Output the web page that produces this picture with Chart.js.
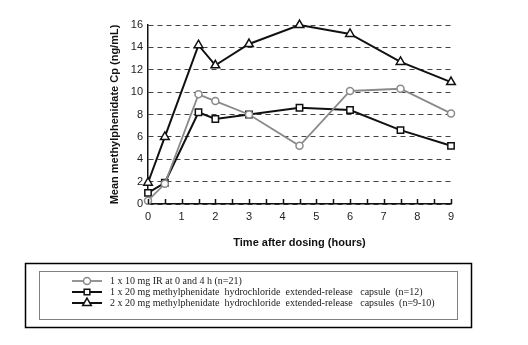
<!DOCTYPE html>
<html>
<head>
<meta charset="utf-8">
<script src="https://cdn.jsdelivr.net/npm/chart.js@4"></script>
<style>
  html, body { margin: 0; padding: 0; background: #fff; }
</style>
</head>
<body>
<canvas id="myChart" width="528" height="345"></canvas>
<script>
// Sampling times (hours) and mean plasma concentrations (ng/mL)
const hours = [0, 0.5, 1.5, 2, 3, 4.5, 6, 7.5, 9];
const irValues = [0.3, 1.8, 9.8, 9.2, 8.0, 5.2, 10.1, 10.3, 8.1];
const er20Values = [1.0, 1.9, 8.2, 7.6, 8.0, 8.6, 8.4, 6.6, 5.2];
const er40Values = [1.9, 6.0, 14.2, 12.4, 14.3, 16.0, 15.2, 12.7, 10.9];
const seriesLabels = [
    '1 x 10 mg IR at 0 and 4 h (n=21)',
    '1 x 20 mg methylphenidate  hydrochloride  extended-release   capsule  (n=12)',
    '2 x 20 mg methylphenidate  hydrochloride  extended-release   capsules  (n=9-10)'
];
const yTicks = [0, 2, 4, 6, 8, 10, 12, 14, 16];
const xTicks = [0, 1, 2, 3, 4, 5, 6, 7, 8, 9];

const toPoints = vals => vals.map((v, i) => ({ x: hours[i], y: v }));

// small inward tick marks on the time axis, every half hour
const innerTicks = {
    id: 'innerTicks',
    afterDraw(chart) {
        const ctx = chart.ctx;
        const xs = chart.scales.x;
        const y0 = chart.chartArea.bottom;
        ctx.save();
        ctx.strokeStyle = '#111';
        ctx.lineWidth = 1.5;
        for (let t = 0; t <= 9; t += 0.5) {
            const px = Math.round(xs.getPixelForValue(t)) + 0.5;
            ctx.beginPath();
            ctx.moveTo(px, y0);
            ctx.lineTo(px, y0 - 5);
            ctx.stroke();
        }
        ctx.restore();
    }
};

// boxed legend below the plot
const boxLegend = {
    id: 'boxLegend',
    afterDraw(chart) {
        const ctx = chart.ctx;
        ctx.save();
        ctx.strokeStyle = '#000';
        ctx.lineWidth = 1.5;
        ctx.strokeRect(25.5, 263.5, 446, 64);
        ctx.lineWidth = 1;
        ctx.setLineDash([1, 1]);
        ctx.strokeRect(39.5, 271.5, 418, 48);
        ctx.setLineDash([]);

        const rows = [281, 292, 303];
        chart.data.datasets.forEach((ds, i) => {
            const y = rows[i];
            ctx.strokeStyle = ds.borderColor;
            ctx.lineWidth = ds.borderWidth;
            ctx.beginPath();
            ctx.moveTo(72, y);
            ctx.lineTo(102, y);
            ctx.stroke();
            ctx.fillStyle = '#fff';
            ctx.strokeStyle = ds.borderColor;
            ctx.lineWidth = ds.pointBorderWidth;
            Chart.helpers.drawPoint(ctx, {
                pointStyle: ds.pointStyle,
                radius: ds.legendRadius,
                borderWidth: ds.pointBorderWidth
            }, 87, y);
            ctx.fillStyle = '#1a1a1a';
            ctx.font = '10px "Liberation Serif", serif';
            ctx.textBaseline = 'middle';
            ctx.fillText(ds.label, 110, y);
        });
        ctx.restore();
    }
};

const data = {
    datasets: [{
        label: seriesLabels[0],
        data: toPoints(irValues),
        borderColor: '#8a8a8a',
        backgroundColor: '#fff',
        borderWidth: 1.8,
        pointStyle: 'circle',
        pointRadius: 3.5,
        legendRadius: 3.5,
        pointBorderWidth: 1.5
    }, {
        label: seriesLabels[1],
        data: toPoints(er20Values),
        borderColor: '#111',
        backgroundColor: '#fff',
        borderWidth: 2,
        pointStyle: 'rect',
        pointRadius: 4.5,
        legendRadius: 4,
        pointBorderWidth: 1.5
    }, {
        label: seriesLabels[2],
        data: toPoints(er40Values),
        borderColor: '#111',
        backgroundColor: '#fff',
        borderWidth: 2,
        pointStyle: 'triangle',
        pointRadius: 5,
        legendRadius: 5,
        pointBorderWidth: 1.5
    }]
};

const config = {
    type: 'line',
    data: data,
    options: {
        responsive: false,
        animation: false,
        layout: { padding: { top: 25, right: 77, bottom: 91, left: 104 } },
        plugins: {
            legend: { display: false },
            tooltip: { enabled: false }
        },
        elements: { line: { tension: 0 } },
        clip: false,
        scales: {
            x: {
                type: 'linear',
                min: 0,
                max: 9,
                afterBuildTicks: s => { s.ticks = xTicks.map(v => ({ value: v })); },
                afterFit: s => { s.height = 50; },
                grid: { display: false, drawTicks: false },
                border: { display: true, color: '#111', width: 1.5 },
                ticks: {
                    color: '#222',
                    padding: 6,
                    font: { family: '"Liberation Sans", Arial, sans-serif', size: 11 }
                },
                title: {
                    display: true,
                    text: 'Time after dosing (hours)',
                    color: '#111',
                    padding: { top: 11 },
                    font: { family: '"Liberation Sans", Arial, sans-serif', size: 11, weight: 'bold' }
                }
            },
            y: {
                min: 0,
                max: 16,
                afterBuildTicks: s => { s.ticks = yTicks.map(v => ({ value: v })); },
                afterFit: s => { s.width = 44; },
                grid: { color: '#444', lineWidth: 1, drawTicks: false },
                border: { display: true, color: '#111', width: 1.5, dash: [5, 4] },
                ticks: {
                    color: '#222',
                    padding: 5,
                    font: { family: '"Liberation Sans", Arial, sans-serif', size: 11 }
                },
                title: {
                    display: true,
                    text: 'Mean methylphenidate Cp (ng/mL)',
                    color: '#111',
                    padding: { bottom: 0 },
                    font: { family: '"Liberation Sans", Arial, sans-serif', size: 11, weight: 'bold' }
                }
            }
        }
    },
    plugins: [innerTicks, boxLegend]
};

var myChart = new Chart(document.getElementById('myChart'), config);
</script>
</body>
</html>
